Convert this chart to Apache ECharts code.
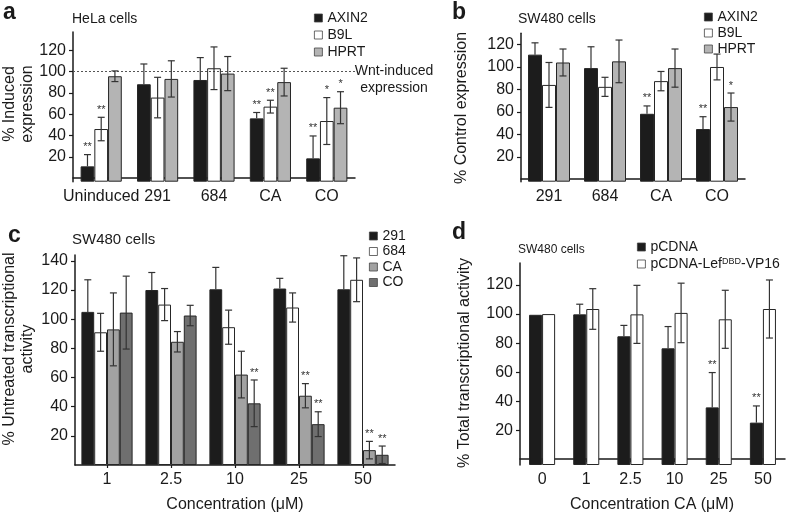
<!DOCTYPE html>
<html><head><meta charset="utf-8">
<script src="https://cdn.jsdelivr.net/npm/echarts@6/dist/echarts.min.js"></script>
<style>html,body{margin:0;padding:0;background:#fff}#c{width:788px;height:515px}</style>
</head><body><div id="c"></div>
<script>
// ---------- Panel a (HeLa cells) ----------
const aCats = ['Uninduced', '291', '684', 'CA', 'CO'];
const aAXIN2 = [11, 88, 92, 56, 18.5];
const aAXIN2Err = [11, 19, 21, 5.5, 21];
const aAXIN2Sig = ['**', '', '', '**', '**'];
const aB9L = [46, 75.5, 103, 67, 53.5];
const aB9LErr = [11, 19, 20, 6, 22];
const aB9LSig = ['**', '', '', '**', '*'];
const aHPRT = [95.5, 93, 98, 90, 66];
const aHPRTErr = [5, 17, 16, 13, 15];
const aHPRTSig = ['', '', '', '', '*'];
const aTicks = [20, 40, 60, 80, 100, 120];

// ---------- Panel b (SW480 cells) ----------
const bCats = ['291', '684', 'CA', 'CO'];
const bAXIN2 = [111, 99, 58.3, 44.7];
const bAXIN2Err = [10.5, 19, 7, 11];
const bAXIN2Sig = ['', '', '**', '**'];
const bB9L = [84, 82.3, 87.4, 100];
const bB9LErr = [20, 8.5, 8.6, 11.5];
const bB9LSig = ['', '', '', ''];
const bHPRT = [104, 105, 99, 64.3];
const bHPRTErr = [12, 19, 17, 12.5];
const bHPRTSig = ['', '', '', '*'];
const bTicks = [20, 40, 60, 80, 100, 120];

// ---------- Panel c (SW480, concentration) ----------
const cCats = ['1', '2.5', '10', '25', '50'];
const c291 = [105, 120, 120.5, 121, 120.5];
const c291Err = [22, 12, 15, 7, 23];
const c684 = [91, 110, 94.5, 108, 127];
const c684Err = [13, 11, 11.7, 10, 15];
const cCA = [93, 84.5, 62, 47.5, 10.2];
const cCAErr = [25, 7, 16, 8.3, 6];
const cCASig = ['', '', '', '**', '**'];
const cCO = [104.5, 102.5, 42.3, 28, 7];
const cCOErr = [25, 7, 16, 8.5, 6];
const cCOSig = ['', '', '**', '**', '**'];
const cTicks = [20, 40, 60, 80, 100, 120, 140];

// ---------- Panel d (Total transcriptional activity) ----------
const dCats = ['0', '1', '2.5', '10', '25', '50'];
const dPCDNA = [99.5, 99.8, 84.7, 76.4, 35.7, 25.2];
const dPCDNAErr = [0, 7, 7.5, 15, 24, 11.5];
const dPCDNASig = ['', '', '', '', '**', '**'];
const dLef = [100, 103.5, 99.8, 100.8, 96.4, 103.5];
const dLefErr = [0, 14, 20, 20.5, 20, 20];
const dTicks = [20, 40, 60, 80, 100, 120];

const FONT = '"Liberation Sans", Arial, Helvetica, sans-serif';
const INK = '#1a1a1a';
const BLACK = '#1c1c1c', WHITE = '#ffffff', LGRAY = '#b4b4b4', MGRAY = '#a2a2a2', DGRAY = '#6f6f6f';
const BORDER = '#262626';

const chart = echarts.init(document.getElementById('c'), null, {renderer: 'canvas'});

function grid(left, top, width, height) {
  return {left, top, width, height, outerBoundsMode: 'none', containLabel: false};
}
function xAx(g, cats, ticks) {
  return {
    type: 'category', gridIndex: g, data: cats,
    axisLine: {show: true, lineStyle: {color: INK, width: 1.5}},
    axisTick: {show: ticks, alignWithLabel: true, length: 3, lineStyle: {color: INK, width: 1.2}},
    axisLabel: {interval: 0, fontSize: 16, color: INK, fontFamily: FONT, margin: 7},
    splitLine: {show: false}
  };
}
function yAx(g, min, max, ticks) {
  return {
    type: 'value', gridIndex: g, min, max, startValue: min,
    axisLine: {show: true, lineStyle: {color: INK, width: 1.5}},
    axisTick: {show: true, length: 4, customValues: ticks, lineStyle: {color: INK, width: 1.2}},
    axisLabel: {customValues: ticks, fontSize: 16, color: INK, fontFamily: FONT, margin: 7},
    splitLine: {show: false}
  };
}
function bar(g, name, data, color, gap, extra) {
  return Object.assign({
    type: 'bar', name, xAxisIndex: g, yAxisIndex: g, data,
    barGap: '0%', barCategoryGap: gap,
    itemStyle: {color, borderColor: BORDER, borderWidth: 1},
    emphasis: {disabled: true}, z: 2
  }, extra || {});
}
function errSeries(g, groups, gapFrac) {
  const n = groups.length;
  const data = [], sigs = [], ups = [];
  groups.forEach((gr, si) => gr.v.forEach((v, j) => {
    data.push([j, v, gr.e[j], si]);
    sigs.push(gr.s ? gr.s[j] : '');
    ups.push(!!gr.up);
  }));
  return {
    type: 'custom', xAxisIndex: g, yAxisIndex: g, z: 6, silent: true, clip: false,
    encode: {x: 0, y: 1}, data,
    renderItem(params, api) {
      const j = api.value(0), v = api.value(1), e = api.value(2), si = api.value(3);
      const band = api.size([1, 0])[0];
      const gw = band * (1 - gapFrac);
      const bw = gw / n;
      const base = api.coord([j, v]);
      const cx = base[0] - gw / 2 + bw * (si + 0.5);
      const yT = api.coord([j, v + e])[1];
      const yB = api.coord([j, v - e])[1];
      const up = ups[params.dataIndex];
      const ls = {stroke: '#333', lineWidth: 1.2};
      const children = [];
      if (e > 0) {
        children.push({type: 'line', shape: {x1: cx, y1: up ? base[1] : yB, x2: cx, y2: yT}, style: ls});
        children.push({type: 'line', shape: {x1: cx - 3.5, y1: yT, x2: cx + 3.5, y2: yT}, style: ls});
        if (!up) children.push({type: 'line', shape: {x1: cx - 3.5, y1: yB, x2: cx + 3.5, y2: yB}, style: ls});
      }
      const s = sigs[params.dataIndex];
      if (s) {
        children.push({type: 'text', style: {x: cx, y: (e > 0 ? yT : base[1]) - 2, text: s, align: 'center', verticalAlign: 'bottom',
          font: '11px ' + FONT, fill: '#333'}});
      }
      return {type: 'group', children};
    }
  };
}
function legend(names, left, top, gap) {
  return {
    data: names, orient: 'vertical', left, top, padding: 0,
    itemWidth: 8, itemHeight: 8, itemGap: gap, itemTextGap: 6, icon: 'rect',
    selectedMode: false,
    itemStyle: {borderColor: '#444', borderWidth: 0.8},
    textStyle: {fontSize: 14, fontFamily: FONT, color: INK, lineHeight: 13,
      rich: {sup: {fontSize: 9, fontFamily: FONT, color: INK, verticalAlign: 'top', lineHeight: 9}}},
    formatter: name => name === 'pCDNA-LefDBD-VP16' ? 'pCDNA-Lef{sup|DBD}-VP16' : name
  };
}
function txt(x, y, text, font, opts) {
  return Object.assign({type: 'text', x, y, silent: true,
    style: Object.assign({text, font, fill: INK, align: 'left', verticalAlign: 'middle'}, (opts && opts.style) || {})},
    opts && opts.rotation !== undefined ? {rotation: opts.rotation} : {});
}

const GA = 0.27, GB = 0.25, GC = 0.20, GD = 0.41;

const option = {
  animation: false,
  backgroundColor: '#ffffff',
  textStyle: {fontFamily: FONT},
  grid: [grid(73, 32, 282, 149.7), grid(521, 33.3, 224, 148.4), grid(75, 255, 320, 210), grid(520, 263, 265, 202)],
  xAxis: [xAx(0, aCats, false), xAx(1, bCats, false), xAx(2, cCats, true), xAx(3, dCats, true)],
  yAxis: [yAx(0, -3.4, 137, aTicks), yAx(1, -2.2, 130, bTicks), yAx(2, 0, 144, cTicks), yAx(3, -4, 135.2, dTicks)],
  legend: [
    legend(['AXIN2', 'B9L', 'HPRT'], 314, 11, 3),
    legend(['AXIN2', 'B9L', 'HPRT'], 704, 10, 2),
    legend(['291', '684', 'CA', 'CO'], 369, 229, 1.5),
    legend(['pCDNA', 'pCDNA-LefDBD-VP16'], 637, 240, 3)
  ],
  series: [
    bar(0, 'AXIN2', aAXIN2, BLACK, '27%', {markLine: {silent: true, symbol: 'none', label: {show: false},
      lineStyle: {type: [2, 2], color: '#555', width: 1}, data: [{yAxis: 100}]}}),
    bar(0, 'B9L', aB9L, WHITE, '27%'),
    bar(0, 'HPRT', aHPRT, LGRAY, '27%'),
    errSeries(0, [{v: aAXIN2, e: aAXIN2Err, s: aAXIN2Sig, up: true}, {v: aB9L, e: aB9LErr, s: aB9LSig}, {v: aHPRT, e: aHPRTErr, s: aHPRTSig}], GA),

    bar(1, 'AXIN2', bAXIN2, BLACK, '25%'),
    bar(1, 'B9L', bB9L, WHITE, '25%'),
    bar(1, 'HPRT', bHPRT, LGRAY, '25%'),
    errSeries(1, [{v: bAXIN2, e: bAXIN2Err, s: bAXIN2Sig, up: true}, {v: bB9L, e: bB9LErr, s: bB9LSig}, {v: bHPRT, e: bHPRTErr, s: bHPRTSig}], GB),

    bar(2, '291', c291, BLACK, '20%'),
    bar(2, '684', c684, WHITE, '20%'),
    bar(2, 'CA', cCA, MGRAY, '20%'),
    bar(2, 'CO', cCO, DGRAY, '20%'),
    errSeries(2, [{v: c291, e: c291Err, up: true}, {v: c684, e: c684Err}, {v: cCA, e: cCAErr, s: cCASig}, {v: cCO, e: cCOErr, s: cCOSig}], GC),

    bar(3, 'pCDNA', dPCDNA, BLACK, '41%'),
    bar(3, 'pCDNA-LefDBD-VP16', dLef, WHITE, '41%'),
    errSeries(3, [{v: dPCDNA, e: dPCDNAErr, s: dPCDNASig, up: true}, {v: dLef, e: dLefErr}], GD)
  ],
  graphic: [
    txt(3, 13, 'a', 'bold 23px ' + FONT),
    txt(72, 19, 'HeLa cells', '14px ' + FONT),
    txt(19, 104, '% Induced\nexpression', '16px ' + FONT, {rotation: Math.PI / 2, style: {align: 'center', lineHeight: 18}}),
    txt(394, 71, 'Wnt-induced\nexpression', '14px ' + FONT, {style: {align: 'center', lineHeight: 17, verticalAlign: 'top', y: -8}}),

    txt(452, 13, 'b', 'bold 23px ' + FONT),
    txt(518, 19, 'SW480 cells', '14px ' + FONT),
    txt(462, 108, '% Control expression', '16px ' + FONT, {rotation: Math.PI / 2, style: {align: 'center'}}),

    txt(8, 236, 'c', 'bold 23px ' + FONT),
    txt(72, 240, 'SW480 cells', '15px ' + FONT),
    txt(19, 349, '% Untreated transcriptional\nactivity', '16px ' + FONT, {rotation: Math.PI / 2, style: {align: 'center', lineHeight: 18}}),
    txt(235, 505, 'Concentration (\u03bcM)', '16px ' + FONT, {style: {align: 'center'}}),

    txt(452, 233, 'd', 'bold 23px ' + FONT),
    txt(518, 250, 'SW480 cells', '12px ' + FONT),
    txt(465, 363, '% Total transcriptional activity', '16px ' + FONT, {rotation: Math.PI / 2, style: {align: 'center'}}),
    txt(652, 505, 'Concentration CA (\u03bcM)', '16px ' + FONT, {style: {align: 'center'}})
  ]
};
chart.setOption(option);
</script>
</body></html>
